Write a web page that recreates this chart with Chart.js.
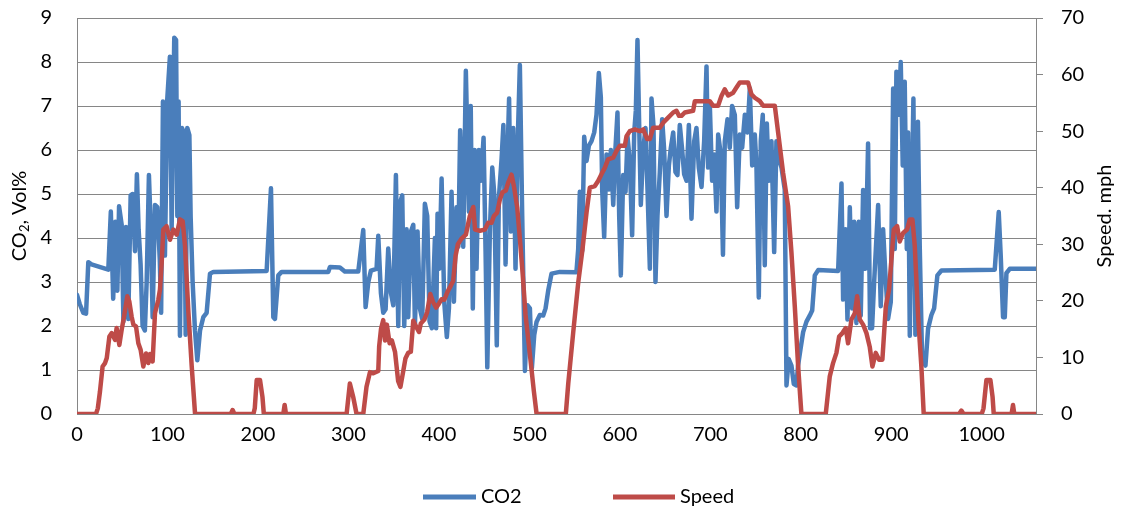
<!DOCTYPE html>
<html><head><meta charset="utf-8">
<script src="https://cdn.jsdelivr.net/npm/chart.js@4/dist/chart.umd.min.js"></script>
<style>html,body{margin:0;padding:0;background:#fff}#wrap{width:1122px;height:512px;position:relative}</style>
</head><body><div id="wrap"><canvas id="c" width="1122" height="512"></canvas></div>
<script>
const xTicks = [0,100,200,300,400,500,600,700,800,900,1000];
const leftTicks = [0,1,2,3,4,5,6,7,8,9];
const rightTicks = [0,10,20,30,40,50,60,70];
const seriesNames = ['CO2','Speed'];

const co2X = [0,3,7,10,12.5,16,34.6,37.4,40,42.4,44.6,46.5,49.4,51.3,54.1,56.7,59.3,61.5,64.1,66.2,68.1,70.3,72.5,75,77,79.5,81.4,83.6,86.2,88.8,91.5,93,95,97.2,99.8,102.7,104.6,107.5,109.5,110.9,112.3,113.8,116,118.2,120.1,121.9,124.2,125.6,127.8,130.4,133,136,139.6,143.3,147,150.7,209.6,214.4,217,218.8,222.5,226.2,277.7,279.6,290.6,296,310.9,316.4,319,322,324.9,331.1,333,335.9,338.5,341.1,344,347,349.6,352.5,355.1,357.3,359.5,361.7,364.3,366.1,369.1,371.7,373.5,376.4,379,381.6,384.5,387.1,389.7,392.3,395.6,397,398.5,400.5,403,405.9,408.8,411.1,414,416.6,419.5,421.5,423.5,426.9,429.8,433.2,435.2,437.5,439.5,441.6,444.2,446.4,449.4,451.6,453.5,456.4,459,461.2,464,466.3,469.3,471.3,473.7,475.9,477.6,479.6,482.2,484.7,487,489.5,492.1,495.1,498,500.6,502.8,505.4,507.9,511.6,515.3,517.9,520.8,524.5,533.7,552,554,555.8,558.4,560.6,563.2,565.8,568.7,571.7,574.2,576.8,579,580.5,582.7,585.3,587.9,590.1,592.7,595.2,597.4,599.3,601.1,603.7,606.3,608.5,611,613.6,615.9,617.7,619.5,621.4,623.2,625.8,628.4,630.6,633.2,635,637.2,639.4,641.6,644.2,646.8,649,651.6,654.2,656.4,659,661.5,663.7,666.3,668.9,671.1,673.7,676.3,679.2,682.2,684.7,687.3,690.3,693.2,695.8,697.6,699.5,702,704.3,706.8,708.7,711.6,714,716,719,721.5,724.1,727.1,729.7,732.6,735.2,738.2,741.1,743.7,746.3,749.2,751,753.6,755.8,758,760.2,762.5,764.7,767.6,770.6,773.1,775.7,778.7,782.3,784.2,786.7,789.7,792.3,795.2,797,799.6,802.6,806.3,810,812.6,815.5,819.2,841.3,845,846.8,849.4,851.6,854.2,856.8,859,861.5,864.1,866.3,868.9,871.5,874.4,876.6,878.8,881.1,885.5,888.4,891,893.6,896.5,899.5,902.1,903.9,905.7,908.3,910.5,912.7,914.9,917.2,918.6,920.5,922.3,924.5,926.7,929.5,931.5,934.1,937.8,940.7,944.4,947.4,951,955.5,1014.4,1018.8,1021,1023.6,1025.5,1027.3,1031,1060];
const co2Y = [2.71,2.5,2.3,2.28,3.45,3.4,3.28,4.6,2.62,4.37,2.8,4.72,4.3,2.1,4.25,2.16,4.97,5.0,3.7,5.45,4.2,3.4,2.0,1.9,3.0,5.43,4.3,2.2,4.75,4.7,3.5,2.3,7.1,3.6,7.17,8.12,4.2,8.55,8.5,4.5,7.1,1.78,6.5,6.4,1.8,6.5,6.34,4.5,3.0,1.9,1.22,1.9,2.2,2.3,3.19,3.23,3.25,5.13,2.2,2.16,3.15,3.23,3.23,3.34,3.33,3.24,3.24,4.18,2.43,3.0,3.26,3.3,4.05,2.75,2.3,2.38,3.76,2.75,2.47,5.43,2.0,4.82,4.97,2.0,4.2,2.2,4.15,4.3,2.0,4.15,2.4,2.16,4.78,4.5,2.1,1.95,4.0,1.95,4.55,3.3,5.35,2.55,1.75,2.4,5.05,2.55,4.7,3.8,6.45,3.8,7.8,4.6,7.0,2.4,6.0,3.3,6.0,5.3,6.28,3.7,1.06,4.2,5.6,5.0,1.56,4.9,5.8,6.57,3.4,5.9,7.17,4.15,6.5,3.3,6.1,7.93,4.5,0.98,2.47,2.4,1.05,1.8,2.09,2.25,2.24,2.4,2.8,3.19,3.23,3.22,3.75,5.05,3.7,6.3,5.75,6.1,6.2,6.4,6.8,7.75,7.2,5.1,4.02,5.9,5.1,6.0,4.75,6.05,6.85,4.5,3.15,5.43,5.05,6.3,5.75,4.06,6.4,6.9,8.5,6.55,4.75,6.0,6.5,5.1,3.3,7.17,6.55,3.0,4.5,5.5,6.7,6.0,4.5,5.65,6.05,6.4,5.5,5.43,6.57,6.0,5.45,5.3,6.57,4.44,6.2,6.5,5.6,5.16,6.2,7.9,5.6,7.0,5.3,5.9,4.6,6.35,5.9,3.62,6.2,6.7,6.05,7.0,6.8,4.7,6.35,6.05,6.8,6.4,7.4,5.65,6.35,5.65,2.65,6.2,6.8,3.38,6.6,5.3,6.2,3.68,6.2,5.8,5.6,5.1,0.65,1.25,1.1,0.68,0.65,1.1,1.46,1.86,2.1,2.24,2.35,3.15,3.27,3.25,5.24,2.6,4.2,2.15,4.7,2.4,4.37,2.07,4.37,2.24,5.09,3.3,6.15,1.95,1.95,3.0,4.75,2.45,4.2,3.15,2.16,2.55,7.4,3.75,7.78,6.8,8.0,5.65,7.55,3.75,6.4,1.78,4.5,7.17,1.8,6.64,3.8,1.25,1.1,1.94,2.25,2.4,3.15,3.26,3.28,4.59,3.6,2.2,2.2,3.2,3.3,3.3];

const speedX = [0,21,23,25.4,28.3,31,32.9,35.8,38.4,42,43.8,46.8,49.4,52,55.6,57.8,60.4,62.3,65.2,67.8,70.4,73.3,76.3,78.8,80.7,83.6,86.2,89.9,91.7,93.6,95.4,99,102.8,106.5,110.2,113.8,116.8,119.4,123,126.8,130.5,170,172,174,195,196.5,198.6,202.3,205,206.5,228,229.5,231,298,301.6,305.3,309,316.4,320,323.8,327.5,333,334,336,338.5,340.5,342.5,345.5,348,351.5,355,357.5,360.5,363,366,369,371.7,375.3,378,380,384,387,390.5,393.5,397,400,403,406,409.5,412.9,415.8,418.5,421,425,429.8,434.2,438,440,445.3,450.8,454.5,458.2,460.8,464.4,467.4,470.3,474,476.6,480.3,482.9,486.6,489.5,492.5,495.8,500.6,505,508,540.3,543,548.4,554,558.7,563.2,566.8,572.4,576,579.7,583.4,587,592.6,596.3,600,605.5,607.4,611,616.6,622.1,625.8,630.2,633.1,636.8,644.2,647.9,653.4,659,662.6,665.5,668.1,671.8,681,682.9,699.4,703,708.6,712.3,716,719.7,725.2,728.9,732.6,741.8,745.5,749.2,754.7,758.4,771.3,775,780.5,786,789.7,793.4,797.1,800.7,827.6,832,835.7,839.4,842.4,846,849.7,852.3,856,859.7,862.3,865.2,868.9,872.6,876.2,879.2,882.9,886.6,890.2,894,897.6,900.2,902.8,906.5,909.4,913.1,917.5,920.5,923.4,926,929.7,933.3,935.9,975,977.5,980,1000,1002,1005.2,1009.6,1012,1013.3,1033,1034.6,1036,1060];
const speedY = [0,0,1,4,8.4,9,9.9,13.7,14.3,13.1,15.2,12.2,14.9,17.2,20.8,19.9,17.2,15.8,15.5,12.5,11.3,8.4,10.7,9,10.6,9.3,17.8,20.2,22,26.7,32.6,33.2,30.8,32.6,31.7,34.4,34.1,29.7,18.4,8.4,0,0,0.7,0,0,1,6,6,3,0,0,1.6,0,0,5.4,3,0,0,4.8,7.4,7.2,7.6,12,15,16.6,13,15.8,12.5,13.0,11,5.8,4.8,7.5,9.8,10.8,11,16.5,15.3,14.5,16,16.7,18,21.2,19.8,18.8,19.5,20.3,20.2,21.6,22.6,23.5,28,30,31,31.7,35,36.6,32.6,32.4,32.6,33.8,33.8,35,35.6,37.9,39.2,39.5,40.9,42.3,40.3,36.5,31,25,17.5,10.5,4,0,0,5.4,14.3,23.2,29.1,35.6,40,40.3,41.2,42.4,43.5,45,45.3,46.5,47.4,47.4,49.1,50,50.3,50,50.3,48.6,48.6,50.6,50.6,51.5,52.4,53.3,53.6,52.7,52.7,53.3,53.6,55.3,55.3,54.5,54.5,56.2,57.4,56.3,56.8,57.7,58.6,58.6,56.5,55.9,55.3,54.5,54.5,49.7,42.6,36.7,28.5,19,8.4,0,0,6.6,9,10.8,13.7,14.3,15.2,12.5,16.7,17.8,20.8,16.7,15.8,14.3,11.9,8.4,10.8,9.6,9.6,19,22,27.3,32.6,33.2,30.5,32,32.6,34.4,34.4,29.7,17.2,8.4,0,0,0.6,0,0,1,6,6,3,0,0,1.6,0,0];

const BLUE = '#4A7EBB', RED = '#BE4B48', GRID = '#868686';
const FONT = 'Lato, "Open Sans", sans-serif';

const co2Data = co2X.map((x, i) => ({x, y: co2Y[i]}));
const speedData = speedX.map((x, i) => ({x, y: speedY[i]}));

const decor = {
  id: 'decor',
  afterDraw(chart) {
    const ctx = chart.ctx, ca = chart.chartArea;
    const cy = (ca.top + ca.bottom) / 2;
    ctx.save();
    ctx.fillStyle = '#000';
    ctx.textBaseline = 'middle';
    const big = '20px ' + FONT, small = '13px ' + FONT;
    // left title with subscript
    ctx.save();
    ctx.translate(20, cy);
    ctx.rotate(-Math.PI / 2);
    ctx.font = big; const w1 = ctx.measureText('CO').width; const w3 = ctx.measureText(', Vol%').width;
    ctx.font = small; const w2 = ctx.measureText('2').width;
    let x0 = -(w1 + w2 + w3) / 2;
    ctx.textAlign = 'left';
    ctx.font = big; ctx.fillText('CO', x0, 0);
    ctx.font = small; ctx.fillText('2', x0 + w1, 5);
    ctx.font = big; ctx.fillText(', Vol%', x0 + w1 + w2, 0);
    ctx.restore();
    // right title
    ctx.save();
    ctx.translate(1105, cy);
    ctx.rotate(-Math.PI / 2);
    ctx.textAlign = 'center';
    ctx.font = big;
    ctx.fillText('Speed. mph', 0, 0);
    ctx.restore();
    // legend
    const ly = 497;
    const items = [[seriesNames[0], BLUE, 423, 476], [seriesNames[1], RED, 613, 675]];
    ctx.lineWidth = 5; ctx.lineCap = 'butt';
    items.forEach(([t, c, a, b]) => {
      ctx.strokeStyle = c; ctx.beginPath(); ctx.moveTo(a, ly); ctx.lineTo(b, ly); ctx.stroke();
      ctx.font = big; ctx.textAlign = 'left'; ctx.fillText(t, b + 5, ly);
    });
    ctx.restore();
  }
};

const noPadV = s => { s.paddingTop = 0; s.paddingBottom = 0; };

new Chart(document.getElementById('c'), {
  type: 'line',
  data: {
    datasets: [
      {label: seriesNames[0], data: co2Data, yAxisID: 'y', borderColor: BLUE, backgroundColor: BLUE, borderWidth: 4.5, pointRadius: 0, tension: 0, borderJoinStyle: 'round', borderCapStyle: 'round', order: 2},
      {label: seriesNames[1], data: speedData, yAxisID: 'y1', borderColor: RED, backgroundColor: RED, borderWidth: 4.5, pointRadius: 0, tension: 0, borderJoinStyle: 'round', borderCapStyle: 'round', order: 1}
    ]
  },
  options: {
    responsive: false, animation: false, parsing: false, normalized: true,
    layout: {padding: {top: 18, left: 0, right: 0, bottom: 0}},
    plugins: {legend: {display: false}, tooltip: {enabled: false}},
    scales: {
      x: {
        type: 'linear', min: 0, max: 1060,
        afterBuildTicks: s => { s.ticks = xTicks.map(v => ({value: v})); },
        afterFit: s => { s.height = 98; s.paddingLeft = 0; s.paddingRight = 0; },
        grid: {display: false, drawTicks: false},
        border: {display: false},
        ticks: {color: '#000', font: {family: FONT, size: 20}, padding: 9, maxRotation: 0, autoSkip: false, callback: v => String(v)}
      },
      y: {
        position: 'left', min: 0, max: 9,
        afterBuildTicks: s => { s.ticks = leftTicks.map(v => ({value: v})); },
        afterFit: s => { s.width = 77; noPadV(s); },
        grid: {color: GRID, lineWidth: 1, drawTicks: false},
        border: {display: true, color: GRID, width: 1},
        ticks: {color: '#000', font: {family: FONT, size: 20}, padding: 25}
      },
      y1: {
        position: 'right', min: 0, max: 70,
        afterBuildTicks: s => { s.ticks = rightTicks.map(v => ({value: v})); },
        afterFit: s => { s.width = 86; noPadV(s); },
        grid: {drawOnChartArea: false, drawTicks: true, tickLength: 7, color: GRID},
        border: {display: true, color: GRID, width: 1},
        ticks: {color: '#000', font: {family: FONT, size: 20}, padding: 18}
      }
    }
  },
  plugins: [decor]
});
</script>
</body></html>
